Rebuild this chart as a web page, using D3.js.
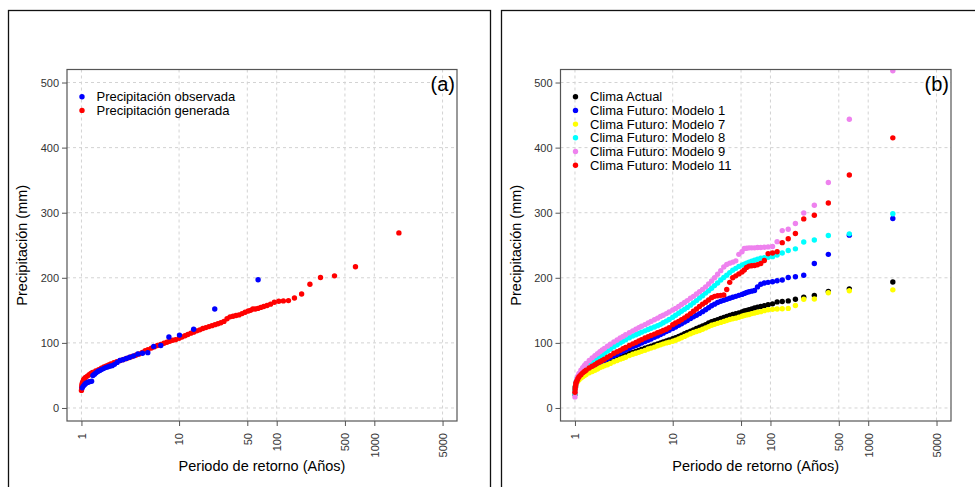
<!DOCTYPE html>
<html>
<head>
<meta charset="utf-8">
<script src="https://cdn.jsdelivr.net/npm/d3@7"></script>
<style>
  body { margin: 0; background: #fff; }
  svg { display: block; font-family: "Liberation Sans", Arial, sans-serif; }
</style>
</head>
<body>
<svg id="chart" width="975" height="487"></svg>
<script>
// Periodos de retorno (años) de la serie generada de ~1000 años
const periodos = [
  1.00, 1.005, 1.01, 1.02, 1.03, 1.05, 1.07, 1.1, 1.15, 1.2,
  1.25, 1.3, 1.4, 1.5, 1.6, 1.7, 1.8, 1.9, 2.0, 2.15,
  2.3, 2.5, 2.7, 2.9, 3.1, 3.3, 3.6, 3.9, 4.2, 4.5,
  4.8, 5.2, 5.6, 6.0, 6.5, 7.0, 7.5, 8.0, 8.6, 9.2,
  10, 10.7, 11.5, 12.3, 13.2, 14.1, 15.2, 16.3, 17.5, 18.8,
  20.2, 21.7, 23.3, 25, 26.8, 28.8, 31, 33.3, 35.7, 38.3,
  41.1, 44.2, 47.5, 51.1, 54, 57, 60.4, 64.3, 68.7, 73.7,
  79.6, 86.5, 94.6, 105, 117, 132, 152, 180, 219, 281,
  391, 641, 1786
];

// Periodos de retorno de la serie observada (~36 años)
const periodosObs = [
  1.02, 1.05, 1.08, 1.11, 1.15, 1.18, 1.22, 1.27, 1.31, 1.36,
  1.41, 1.47, 1.54, 1.60, 1.68, 1.76, 1.85, 1.95, 2.06, 2.18,
  2.32, 2.48, 2.66, 2.88, 3.12, 3.42, 3.78, 4.22, 4.78, 5.50,
  6.50, 7.87, 10.1, 14.1, 23.2, 64.5
];

// Panel (a)
const precipObservada = [
  31, 34, 36, 38, 39, 40, 40.5, 41, 50, 52,
  54, 56, 57.5, 59, 60.5, 62, 63, 64, 65, 67,
  70, 73, 74, 76, 78, 80, 83, 84, 85, 94.5,
  96, 109, 112, 121, 152, 197
];

const precipGenerada = [
  27, 31, 35, 38, 40, 43, 45, 47, 49, 51,
  53, 54.5, 57, 59, 61, 63, 64.5, 66, 67.5, 69.5,
  71, 73, 74.5, 76, 77.5, 79, 81, 83, 85.5, 88,
  89.5, 92, 94, 96, 97.5, 99.5, 101, 102.5, 104, 105,
  107, 109, 111, 113, 115, 116.5, 118.5, 120, 122, 123.5,
  125, 126.5, 128, 129.5, 131, 133, 137, 140, 141, 142,
  143, 145, 147, 149, 150, 152, 152, 153, 154.5, 156,
  157.5, 159.5, 162.5, 164, 164.5, 165, 169, 175, 190, 200.5,
  203, 217, 269
];

// Panel (b)
const climaActual = [
  22, 28, 32, 36, 38, 41, 43.5, 46, 49, 51,
  53, 55, 57.5, 60, 62, 64, 66, 67.5, 69, 70.5,
  72.5, 74.5, 76.5, 78.5, 80, 81.5, 83.5, 85.5, 87, 88.5,
  90, 92, 93.5, 95, 97, 98.5, 100, 101.5, 103, 104.5,
  106.5, 108, 110, 112, 114, 116, 118, 120, 122, 124,
  126, 128, 130.5, 132.5, 134, 135.5, 137.5, 139, 140.5, 142,
  143.5, 145, 146, 147.5, 149, 150, 151, 152, 153.5, 155,
  156, 157, 158.5, 160, 163, 163.5, 164.5, 167, 170, 173,
  179, 183, 193.5
];

const modelo1 = [
  21, 27, 31, 35, 38, 41, 43.5, 46, 49.5, 52,
  54, 56, 59.5, 62, 64.5, 66.5, 68.5, 70.5, 72.5, 75,
  77.5, 80, 82.5, 85, 87, 89, 91.5, 94, 96, 98,
  100, 102, 104, 106, 108.5, 110.5, 113, 115, 117.5, 119.5,
  122, 124.5, 127, 129.5, 132, 134.5, 137.5, 140, 142.5, 145,
  148, 151, 154, 157, 159.5, 162, 164, 165.5, 167, 168.5,
  170, 171.5, 173, 174.5, 176, 177.5, 178.5, 179.5, 180.5, 186,
  190, 192, 193, 194, 195.5, 196.5, 200.5, 201.5, 204, 222,
  236, 265.5, 291
];

const modelo7 = [
  22, 27, 31, 35, 37, 40, 42, 43.5, 46, 48,
  50, 51.5, 54, 56, 58, 60, 62, 63.5, 65, 66.5,
  68.5, 71, 73, 75, 76.5, 78, 80.5, 82.5, 84, 85.5,
  87, 88.5, 90.5, 92, 93.5, 95.5, 97, 98.5, 100, 101,
  102.5, 104, 106, 108, 110, 112, 114, 116, 117.5, 119,
  121, 123, 125, 127, 128.5, 130, 131.5, 133, 134.5, 136,
  137, 138, 139.5, 141, 142, 143, 143.5, 145, 146, 147,
  148, 149.5, 151, 151.5, 152, 152.5, 153, 157.5, 167, 167.5,
  177, 180, 181.5
];

const modelo8 = [
  22, 28, 33, 37, 40, 44, 47, 50, 54, 57.5,
  60.5, 63, 67, 70.5, 73.5, 76.5, 79, 81.5, 84, 87.5,
  90.5, 94, 97, 100, 102.5, 105, 108, 110.5, 112.5, 114.5,
  116.5, 118.5, 120.5, 122.5, 124.5, 126.5, 128.5, 131, 133.5, 136,
  139.5, 142.5, 145.5, 148.5, 151.5, 154.5, 158, 161.5, 165, 169,
  172.5, 176.5, 180, 184, 188, 192, 196.5, 200.5, 204, 208,
  211.5, 214.5, 217.5, 219.5, 221, 222.5, 224, 225.5, 227, 228.5,
  230, 231, 231.5, 232.5, 235, 238, 242, 244.5, 255, 258,
  265, 267.5, 298.5
];

const modelo9 = [
  17, 24, 30, 36, 40, 45, 49, 53, 58, 62,
  65.5, 68.5, 73, 77, 80.5, 83.5, 86.5, 89, 91.5, 95,
  98, 101.5, 104.5, 107.5, 110, 112.5, 115.5, 118.5, 121, 123.5,
  125.5, 128, 130.5, 133, 135.5, 138, 140.5, 142.5, 145, 147.5,
  150.5, 153, 156, 159, 162, 165, 168.5, 171.5, 175, 178.5,
  182, 186, 190.5, 195, 200, 205.5, 211, 216.5, 220.5, 222.5,
  224, 226, 236, 240, 245, 245.5, 246, 246, 246, 246.5,
  246.5, 247, 247.5, 248, 255.5, 272.5, 274.5, 283.5, 299.5, 311.5,
  346.5, 443.5, 518
];

const modelo11 = [
  24, 29, 33, 37, 39.5, 42, 45, 48, 51, 54,
  56, 58, 61.5, 64, 66.5, 69, 71, 73, 75, 78,
  80.5, 84, 86.5, 88.5, 91, 93, 96, 98.5, 100.5, 103,
  105, 107.5, 109.5, 111.5, 113.5, 115.5, 117, 119, 121, 123.5,
  128, 130.5, 133, 135.5, 138.5, 141.5, 145, 148.5, 152, 156,
  159.5, 162.5, 166, 169.5, 171.5, 172.5, 173, 173.5, 182, 193,
  200, 203, 206, 209, 212, 216, 218, 218.5, 219, 220,
  222, 226.5, 237, 238, 240, 254, 260, 268, 290.5, 296,
  315, 358, 415
];

const ticksX = [1, 10, 50, 100, 500, 1000, 5000];
const ticksY = [0, 100, 200, 300, 400, 500];

const svg = d3.select('#chart');

// Marcos exteriores de cada figura
svg.append('rect')
  .attr('x', 8.5).attr('y', 10.5).attr('width', 482).attr('height', 500)
  .attr('fill', 'none').attr('stroke', '#111').attr('stroke-width', 1.3);
svg.append('rect')
  .attr('x', 501.5).attr('y', 10.5).attr('width', 500).attr('height', 500)
  .attr('fill', 'none').attr('stroke', '#111').attr('stroke-width', 1.3);

function drawPanel(p) {
  const x = d3.scaleLog()
    .domain([Math.pow(10, -0.148), Math.pow(10, 3.847)])
    .range([p.left, p.right]);
  const y = d3.scaleLinear().domain([-20, 520]).range([p.bottom, p.top]);

  const g = svg.append('g');

  g.append('defs').append('clipPath').attr('id', 'clip-' + p.id)
    .append('rect')
    .attr('x', p.left).attr('y', p.top)
    .attr('width', p.right - p.left).attr('height', p.bottom - p.top);

  // Rejilla
  const grid = g.append('g')
    .attr('stroke', '#d3d3d3').attr('stroke-dasharray', '3,3').attr('stroke-width', 1);
  grid.selectAll('.gx').data(ticksX).enter().append('line')
    .attr('x1', d => x(d)).attr('x2', d => x(d))
    .attr('y1', p.top).attr('y2', p.bottom);
  grid.selectAll('.gy').data(ticksY).enter().append('line')
    .attr('x1', p.left).attr('x2', p.right)
    .attr('y1', d => y(d)).attr('y2', d => y(d));

  // Puntos
  const pts = g.append('g').attr('clip-path', `url(#clip-${p.id})`);
  p.series.forEach(s => {
    const rows = s.values.map((v, i) => ({ t: s.periods[i], v }));
    pts.append('g').selectAll('circle').data(rows).enter().append('circle')
      .attr('cx', d => x(d.t))
      .attr('cy', d => y(d.v))
      .attr('r', 2.7)
      .attr('fill', s.color);
  });

  // Caja del área de trazado
  g.append('rect')
    .attr('x', p.left).attr('y', p.top)
    .attr('width', p.right - p.left).attr('height', p.bottom - p.top)
    .attr('fill', 'none').attr('stroke', '#555').attr('stroke-width', 1.2);

  // Eje Y
  const yAxis = g.append('g')
    .attr('transform', `translate(${p.left},0)`)
    .call(d3.axisLeft(y).tickValues(ticksY).tickSize(5).tickPadding(3));
  yAxis.select('.domain').remove();
  yAxis.selectAll('line').attr('stroke', '#555');
  yAxis.selectAll('text').attr('font-size', '11px').attr('fill', '#333')
    .style('font-family', '"Liberation Sans", Arial, sans-serif');

  // Eje X
  const xAxis = g.append('g')
    .attr('transform', `translate(0,${p.bottom})`)
    .call(d3.axisBottom(x).tickValues(ticksX).tickFormat(d3.format('d')).tickSize(5));
  xAxis.select('.domain').remove();
  xAxis.selectAll('line').attr('stroke', '#555');
  xAxis.selectAll('text')
    .attr('transform', 'rotate(-90)')
    .attr('text-anchor', 'end')
    .attr('x', -12).attr('y', 0).attr('dy', '0.35em')
    .attr('font-size', '11px').attr('fill', '#333')
    .style('font-family', '"Liberation Sans", Arial, sans-serif');

  // Títulos de ejes
  g.append('text')
    .attr('x', (p.left + p.right) / 2).attr('y', 471)
    .attr('text-anchor', 'middle').attr('font-size', '14.5px').attr('fill', '#000')
    .text('Periodo de retorno (Años)');
  g.append('text')
    .attr('transform', `translate(${p.left - 40},${(p.top + p.bottom) / 2}) rotate(-90)`)
    .attr('text-anchor', 'middle').attr('font-size', '14.5px').attr('fill', '#000')
    .text('Precipitación (mm)');

  // Etiqueta de panel
  g.append('text')
    .attr('x', p.right - 2).attr('y', y(500) + 1)
    .attr('dy', '0.35em')
    .attr('text-anchor', 'end').attr('font-size', '20px').attr('fill', '#000')
    .text(p.label);

  // Leyenda
  const leg = g.append('g');
  const items = leg.selectAll('g').data(p.legend).enter().append('g')
    .attr('transform', (d, i) => `translate(${p.left + 15},${p.top + 27.2 + i * 13.7})`);
  items.append('circle').attr('r', 2.7).attr('fill', d => d.color);
  items.append('text')
    .attr('x', 14.5).attr('dy', '0.35em')
    .attr('font-size', '13px').attr('fill', '#000')
    .text(d => d.name);
}

drawPanel({
  id: 'a', label: '(a)',
  left: 67, right: 457, top: 69.5, bottom: 421,
  series: [
    { values: precipGenerada, periods: periodos, color: '#ff0000' },
    { values: precipObservada, periods: periodosObs, color: '#0000ff' }
  ],
  legend: [
    { name: 'Precipitación observada', color: '#0000ff' },
    { name: 'Precipitación generada', color: '#ff0000' }
  ]
});

drawPanel({
  id: 'b', label: '(b)',
  left: 560.5, right: 951, top: 69.5, bottom: 421,
  series: [
    { values: climaActual, periods: periodos, color: '#000000' },
    { values: modelo1, periods: periodos, color: '#0000ff' },
    { values: modelo7, periods: periodos, color: '#ffff00' },
    { values: modelo8, periods: periodos, color: '#00ffff' },
    { values: modelo9, periods: periodos, color: '#ee82ee' },
    { values: modelo11, periods: periodos, color: '#ff0000' }
  ],
  legend: [
    { name: 'Clima Actual', color: '#000000' },
    { name: 'Clima Futuro: Modelo 1', color: '#0000ff' },
    { name: 'Clima Futuro: Modelo 7', color: '#ffff00' },
    { name: 'Clima Futuro: Modelo 8', color: '#00ffff' },
    { name: 'Clima Futuro: Modelo 9', color: '#ee82ee' },
    { name: 'Clima Futuro: Modelo 11', color: '#ff0000' }
  ]
});
</script>
</body>
</html>
